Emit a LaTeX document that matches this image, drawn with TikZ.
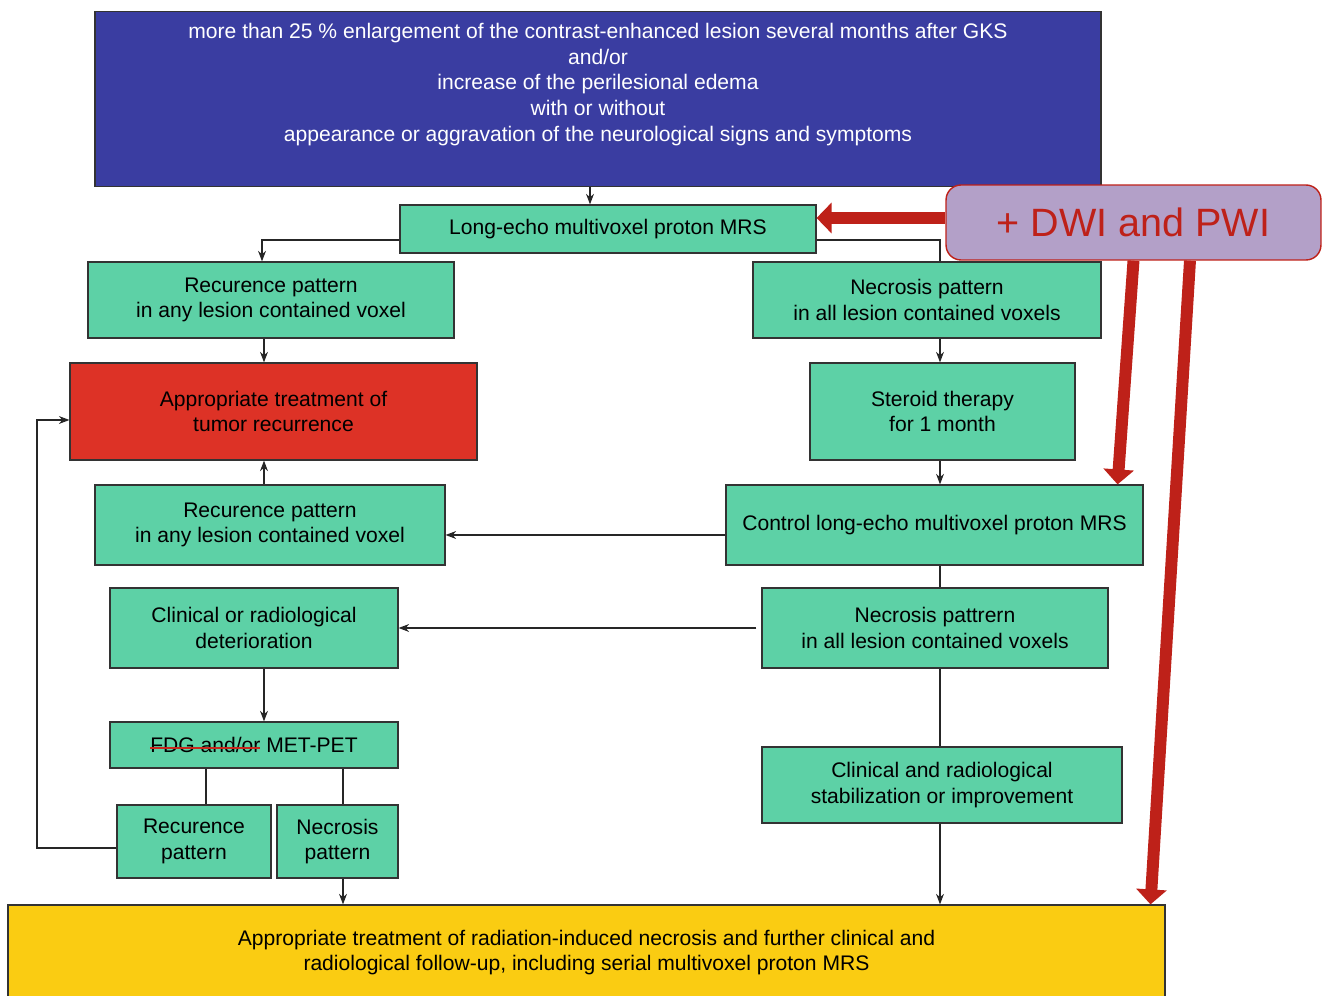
\documentclass[tikz,border=0pt]{standalone}
\usepackage{fontspec}
\setmainfont{Liberation Sans}
\usetikzlibrary{arrows.meta}

\newcommand{\redstrike}[1]{\setbox0\hbox{#1}\copy0\llap{\color{strikeRed}\rule[0.3ex]{\wd0}{1.3pt}}}

\begin{document}
\begin{tikzpicture}[x=0.02cm, y=-0.02cm,
  box/.style={draw=boxLine, line width=0.7pt, inner sep=0pt, align=center, font=\fontsize{12}{14.6}\selectfont},
  greenbox/.style={box, fill=boxGreen, text=black},
  conn/.style={draw=black!85, line width=0.6pt, -{Stealth[length=6pt, width=4.5pt]}},
  plain/.style={draw=black!85, line width=0.6pt},
  redarrow/.style={draw=arrowRed, line width=6.8pt, -{Triangle[length=8.5pt, width=17pt]}, shorten >=0pt}]

\definecolor{boxLine}{HTML}{333333}
\definecolor{boxBlue}{HTML}{3A3DA1}
\definecolor{boxGreen}{HTML}{5DD1A6}
\definecolor{boxRed}{HTML}{DD3226}
\definecolor{boxYellow}{HTML}{FACC12}
\definecolor{boxPurple}{HTML}{B3A0C8}
\definecolor{arrowRed}{HTML}{BE2119}
\definecolor{strikeRed}{HTML}{C8291E}

\useasboundingbox (0,0) rectangle (1323,996);

% Criteria (top)
\node[box, fill=boxBlue, text=white, minimum width=20.12cm, minimum height=3.5cm] (crit) at (598,99)
  {more than 25 \% enlargement of the contrast-enhanced lesion several months after GKS\\and/or\\increase of the perilesional edema\\with or without\\appearance or aggravation of the neurological signs and symptoms\\ \strut};

% First MRS
\node[greenbox, minimum width=8.32cm, minimum height=0.96cm] (mrs) at (608,229) {Long-echo multivoxel proton MRS};

% Patterns after first MRS
\node[greenbox, minimum width=7.32cm, minimum height=1.52cm] (rec1) at (271,300) {Recurence pattern\\in any lesion contained voxel};
\node[greenbox, minimum width=6.96cm, minimum height=1.52cm] (nec1) at (927,300) {Necrosis pattern\\in all lesion contained voxels};

% Treatment of recurrence
\node[box, fill=boxRed, text=black, minimum width=8.14cm, minimum height=1.94cm] (appr) at (273.5,411.5) {Appropriate treatment of\\tumor recurrence};

% Steroid therapy
\node[greenbox, minimum width=5.3cm, minimum height=1.94cm] (ster) at (942.5,411.5) {Steroid therapy\\for 1 month};

% Control MRS
\node[greenbox, minimum width=7.0cm, minimum height=1.6cm] (rec2) at (270,525) {Recurence pattern\\in any lesion contained voxel};
\node[greenbox, minimum width=8.34cm, minimum height=1.6cm] (ctrl) at (934.5,525) {Control long-echo multivoxel proton MRS};

% Deterioration / necrosis
\node[greenbox, minimum width=5.76cm, minimum height=1.6cm] (clindet) at (254,628) {Clinical or radiological\\deterioration};
\node[greenbox, minimum width=6.92cm, minimum height=1.6cm] (nec2) at (935,628) {Necrosis pattrern\\in all lesion contained voxels};

% PET
\node[greenbox, minimum width=5.76cm, minimum height=0.92cm] (pet) at (254,745) {\redstrike{FDG and/or} MET-PET};
\node[greenbox, minimum width=7.2cm, minimum height=1.52cm] (stab) at (942,785) {Clinical and radiological\\stabilization or improvement};
\node[greenbox, minimum width=3.08cm, minimum height=1.46cm] (rec3) at (194,841.5) {Recurence\\pattern};
\node[greenbox, minimum width=2.42cm, minimum height=1.46cm] (nec3) at (337.5,841.5) {Necrosis\\pattern};

% Treatment of necrosis (bottom)
\node[box, fill=boxYellow, text=black, minimum width=23.14cm, minimum height=1.9cm] (necr) at (586.5,952.5)
  {Appropriate treatment of radiation-induced necrosis and further clinical and\\radiological follow-up, including serial multivoxel proton MRS};

% DWI and PWI
\node[draw=arrowRed, line width=0.8pt, fill=boxPurple, rounded corners=0.3cm, minimum width=7.5cm, minimum height=1.5cm,
  text=arrowRed, font=\fontsize{22.5}{26}\selectfont] (dwi) at (1133.5,222.5) {+ DWI and PWI};

% guide lines for the connectors
\coordinate (xa) at (590,0);
\coordinate (xb) at (262,0);
\coordinate (xl) at (264,0);
\coordinate (xr) at (940,0);
\coordinate (xp) at (206,0);
\coordinate (xq) at (343,0);
\coordinate (xo) at (37,0);
\coordinate (yb) at (0,240);
\coordinate (ym) at (0,535);
\coordinate (yl) at (0,848);
\coordinate (yt) at (0,420);

% connectors, left branch
\draw[conn] (crit.south -| xa) -- (mrs.north -| xa);
\draw[conn] (mrs.west |- yb) -| (rec1.north -| xb);
\draw[conn] (rec1.south -| xl) -- (appr.north -| xl);
\draw[conn] (rec2.north -| xl) -- (appr.south -| xl);
\draw[conn] (clindet.south -| xl) -- (pet.north -| xl);
\draw[plain] (pet.south -| xp) -- (rec3.north -| xp);
\draw[plain] (pet.south -| xq) -- (nec3.north -| xq);
\draw[conn] (nec3.south -| xq) -- (necr.north -| xq);
\draw[conn] (rec3.west |- yl) -- (xo |- yl) -- (xo |- yt) -- (appr.west |- yt);

% connectors, right branch
\draw[plain] (mrs.east |- yb) -| (nec1.north -| xr);
\draw[conn] (nec1.south -| xr) -- (ster.north -| xr);
\draw[conn] (ster.south -| xr) -- (ctrl.north -| xr);
\draw[plain] (ctrl.south -| xr) -- (nec2.north -| xr);
\draw[plain] (nec2.south -| xr) -- (stab.north -| xr);
\draw[conn] (stab.south -| xr) -- (necr.north -| xr);

% across
\draw[conn] (ctrl.west |- ym) -- (rec2.east |- ym);
\draw[conn] ([xshift=-0.1cm]nec2.west) -- (clindet.east);

% red arrows from DWI and PWI
\draw[redarrow] ([yshift=0.09cm]dwi.west) -- ([yshift=0.09cm]dwi.west -| mrs.east);
\draw[redarrow] (dwi.south) -- ([xshift=-0.52cm]ctrl.north east);
\draw[redarrow] ([xshift=1.13cm]dwi.south) -- ([xshift=-0.3cm]necr.north east);

\end{tikzpicture}
\end{document}
